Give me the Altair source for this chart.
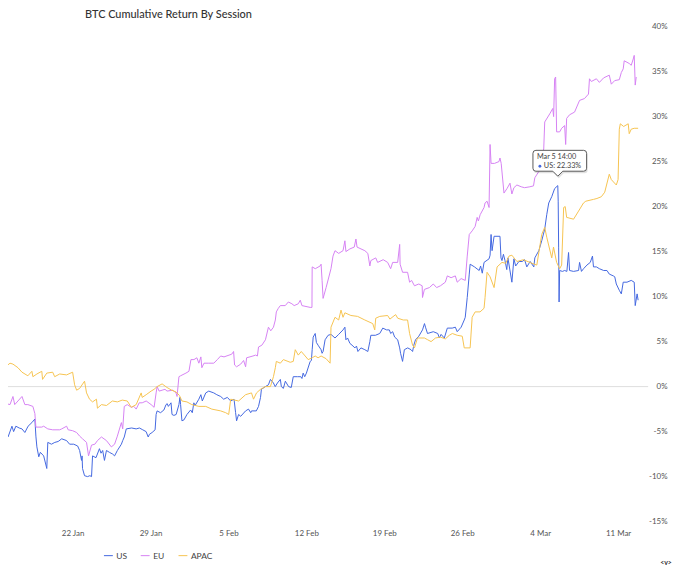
import altair as alt
import pandas as pd

# Data: (days since 15 Jan 2024 00:00, cumulative return %)
US = [(0.48,-5.8),(0.75,-4.4),(0.93,-5.8),(1.2,-5.6),(1.55,-4.4),(1.7,-5.0),(1.9,-4.4),(2.2,-4.6),(2.45,-4.7),
      (2.71,-5.1),(3.0,-4.4),(3.34,-4.0),(3.61,-3.6),(3.70,-5.5),(3.79,-6.7),(3.96,-7.8),(4.1,-7.3),(4.4,-7.7),
      (4.68,-9.1),(4.77,-6.2),(5.1,-6.4),(5.4,-6.2),(5.7,-6.1),(6.02,-5.8),(6.46,-6.0),(6.73,-6.4),(7.1,-6.4),
      (7.45,-6.6),(7.63,-7.1),(7.8,-8.2),(7.85,-7.7),(7.89,-9.1),(8.07,-9.9),(8.34,-10.0),(8.55,-9.9),(8.7,-10.0),
      (8.79,-7.7),(9.1,-7.9),(9.41,-6.9),(9.55,-7.4),(9.7,-7.1),(9.86,-8.2),(10.04,-7.1),(10.3,-7.3),(10.6,-7.5),
      (10.77,-7.7),(11.02,-7.1),(11.38,-6.4),(11.5,-6.0),(11.64,-5.6),(11.82,-4.7),(12.3,-4.6),(12.71,-4.7),
      (13.0,-4.6),(13.3,-4.8),(13.6,-5.0),(13.79,-5.6),(13.9,-5.3),(14.14,-5.1),(14.41,-4.8),(14.5,-3.1),
      (14.59,-2.7),(14.9,-2.9),(15.2,-2.6),(15.39,-2.0),(15.5,-1.9),(15.6,-2.2),(15.84,-1.8),(15.93,-3.1),
      (16.1,-3.2),(16.3,-3.1),(16.55,-2.0),(16.64,-1.2),(16.7,-2.0),(16.82,-3.8),(17.0,-3.7),(17.27,-3.1),
      (17.6,-2.6),(17.75,-2.9),(17.89,-1.8),(18.0,-2.1),(18.34,-1.4),(18.52,-0.9),(18.65,-1.6),(18.96,-0.7),
      (19.23,-0.5),(19.68,-0.7),(19.95,-0.9),(20.3,-1.1),(20.57,-1.4),(20.9,-1.2),(21.2,-1.6),(21.5,-1.4),
      (21.64,-2.9),(21.73,-3.8),(21.91,-3.1),(22.1,-3.3),(22.54,-2.7),(22.8,-2.5),(23.0,-2.9),(23.07,-2.7),
      (23.5,-2.7),(23.7,-2.2),(23.88,-1.2),(23.96,-0.3),(24.32,0.0),(24.59,0.2),(24.77,0.8),(25.04,0.4),
      (25.2,0.0),(25.4,0.4),(25.66,0.8),(25.75,0.0),(25.93,-0.2),(26.11,0.6),(26.4,0.0),(26.64,-0.1),
      (26.82,1.1),(27.2,1.1),(27.5,1.1),(27.6,0.9),(27.71,1.5),(27.85,1.1),(28.0,1.5),(28.34,2.8),(28.45,2.9),
      (28.52,4.1),(28.61,5.5),(28.79,5.9),(28.9,4.9),(29.05,4.6),(29.32,4.1),(29.41,3.7),(29.5,3.9),
      (29.68,5.2),(29.95,5.7),(30.21,5.8),(30.57,5.4),(30.9,5.8),(31.29,6.3),(31.46,6.6),(31.55,5.2),
      (31.7,5.4),(31.91,4.8),(32.1,4.6),(32.36,4.3),(32.5,4.5),(32.63,3.9),(32.9,4.3),(33.25,4.1),(33.52,3.9),
      (33.7,5.0),(33.79,5.7),(34.2,5.7),(34.59,5.9),(34.86,6.5),(35.2,6.3),(35.45,6.3),(35.57,5.9),
      (35.75,6.1),(35.93,5.5),(36.2,5.2),(36.38,4.3),(36.46,3.7),(36.64,2.8),(36.8,4.1),(37.1,4.3),
      (37.4,4.1),(37.54,3.9),(37.65,4.6),(37.8,5.2),(38.1,5.6),(38.43,6.3),(38.61,7.0),(38.7,6.6),
      (38.88,5.9),(39.4,6.1),(39.8,5.9),(39.95,5.4),(40.1,5.8),(40.39,5.4),(40.66,6.5),(41.1,6.5),
      (41.38,6.6),(41.55,6.1),(41.9,6.6),(42.18,7.4),(42.27,7.7),(42.45,9.9),(42.63,12.5),(42.71,13.6),
      (43.1,13.3),(43.52,12.9),(43.65,13.4),(43.8,12.6),(43.96,13.8),(44.41,14.2),(44.5,14.6),(44.59,16.9),
      (44.68,15.1),(44.86,16.7),(45.39,16.7),(45.48,14.3),(45.57,14.0),(45.7,14.7),(45.84,14.0),(46.0,13.0),
      (46.1,14.3),(46.46,11.6),(46.64,14.2),(46.8,13.4),(47.09,13.9),(47.4,13.9),(47.6,14.1),(47.8,13.3),
      (48.1,13.9),(48.43,13.3),(48.52,14.3),(48.88,15.1),(49.14,16.2),(49.41,17.5),(49.59,19.1),(49.77,20.4),
      (50.04,21.1),(50.3,22.0),(50.5833,22.33),(50.62,20.6),(50.66,15.5),(50.7,9.4),(50.75,12.9),(51.0,12.8),
      (51.2,12.9),(51.4,12.8),(51.55,14.9),(51.64,12.9),(52.0,12.8),(52.45,12.9),(52.54,13.8),(52.71,12.8),
      (52.9,13.1),(53.2,13.5),(53.5,13.8),(53.7,14.5),(53.79,13.3),(54.05,13.3),(54.32,13.1),(54.7,12.9),
      (55.0,12.9),(55.21,12.5),(55.57,12.3),(55.7,12.2),(55.84,11.4),(56.11,10.7),(56.29,10.3),(56.46,11.6),
      (56.8,11.6),(57.18,11.8),(57.45,11.6),(57.54,9.0),(57.71,10.3),(57.8,9.6)]

EU = [(0.48,-2.5),(0.75,-1.8),(1.375,-2.0),(1.64,-1.1),(1.8,-2.0),(2.09,-1.6),(2.45,-1.1),(2.71,-2.0),
      (2.98,-2.0),(3.43,-2.2),(3.61,-3.0),(3.70,-4.5),(4.23,-4.5),(4.4,-4.4),(4.77,-4.7),(5.21,-4.8),
      (5.84,-4.8),(6.02,-4.7),(6.46,-4.4),(6.6,-4.8),(7.0,-4.9),(7.36,-5.1),(7.63,-5.5),(7.89,-5.8),
      (8.25,-6.2),(8.43,-7.7),(8.7,-6.5),(9.0,-6.4),(9.23,-6.0),(9.59,-5.6),(10.04,-6.0),(10.48,-6.7),
      (10.77,-6.4),(11.02,-5.5),(11.38,-4.0),(11.5,-4.7),(11.64,-2.2),(11.91,-2.0),(12.27,-2.3),(12.5,-2.2),
      (12.71,-2.5),(12.98,-1.8),(13.25,-1.8),(13.61,-1.6),(14.05,-2.0),(14.32,-2.3),(14.5,-0.7),(14.59,0.0),
      (14.77,-0.5),(15.04,-0.4),(15.3,-0.3),(15.48,-0.5),(16.0,-0.4),(16.29,-0.7),(16.38,-1.1),(16.55,1.1),
      (16.7,1.2),(17.18,1.5),(17.45,1.7),(17.63,3.0),(17.9,3.0),(18.16,3.2),(18.34,2.6),(18.52,3.3),
      (18.61,2.1),(18.8,2.6),(19.23,2.6),(19.68,2.6),(20.0,3.0),(20.3,3.4),(20.6,3.3),(21.29,3.6),
      (21.46,3.9),(21.55,2.4),(21.73,2.2),(22.1,2.5),(22.36,2.9),(22.54,2.2),(22.63,3.2),(23.2,3.4),
      (23.43,3.5),(23.6,3.4),(23.7,4.4),(24.0,4.6),(24.32,5.2),(24.59,6.6),(24.8,6.2),(25.04,6.6),
      (25.21,7.4),(25.3,8.3),(25.48,8.7),(25.66,9.0),(26.1,9.0),(26.38,9.4),(26.7,9.2),(26.9,9.0),
      (27.27,9.2),(27.45,9.6),(27.6,9.0),(28.34,8.8),(28.5,8.8),(28.52,13.3),(28.8,13.1),(29.23,13.4),
      (29.32,13.6),(29.41,11.8),(29.5,9.8),(29.77,11.0),(30.21,13.1),(30.39,14.5),(30.57,15.1),(30.9,14.8),
      (31.29,15.1),(31.46,16.2),(31.55,15.0),(31.91,15.3),(32.3,15.5),(32.45,16.4),(32.55,15.5),(33.25,15.1),
      (33.52,14.8),(33.7,13.4),(33.79,14.0),(34.23,14.3),(34.4,13.8),(34.9,14.1),(35.3,13.8),(35.57,13.1),
      (35.75,13.8),(36.2,13.8),(36.38,15.8),(36.42,13.6),(36.64,12.7),(37.09,12.7),(37.27,11.6),(37.45,11.8),
      (37.71,11.2),(38.1,11.4),(38.4,11.2),(38.43,9.9),(38.6,10.8),(39.05,11.0),(39.4,11.4),(39.7,11.0),
      (40.04,11.2),(40.48,11.6),(40.66,12.3),(41.0,12.1),(41.38,12.3),(41.55,11.6),(41.9,12.0),(42.27,11.8),
      (42.45,14.5),(42.63,16.9),(42.89,17.3),(43.16,17.8),(43.34,18.8),(43.45,18.4),(43.61,19.1),(43.96,19.9),
      (44.05,20.4),(44.23,20.6),(44.41,19.9),(44.5,26.9),(44.59,24.8),(44.9,24.8),(45.3,25.0),(45.39,25.4),
      (45.5,24.8),(45.75,21.5),(46.02,22.0),(46.29,22.6),(46.46,21.4),(46.64,22.1),(46.91,22.4),(47.3,22.2),
      (47.6,22.1),(48.07,22.2),(48.4,22.3),(48.52,23.2),(48.88,23.9),(49.14,25.4),(49.32,26.4),(49.41,29.4),
      (49.86,30.3),(50.13,30.9),(50.21,30.0),(50.3,34.2),(50.39,34.4),(50.48,28.3),(50.75,28.3),(50.93,28.7),
      (51.2,29.0),(51.29,26.9),(51.38,29.8),(51.64,30.2),(52.09,30.5),(52.54,31.8),(52.98,32.0),(53.34,32.5),
      (53.43,34.2),(53.6,33.9),(54.05,34.2),(54.32,33.8),(54.7,34.3),(55.21,34.6),(55.39,33.6),(55.7,34.0),
      (56.11,34.1),(56.29,34.9),(56.46,35.3),(56.55,36.2),(57.0,35.9),(57.18,35.7),(57.36,36.4),(57.45,36.8),
      (57.54,33.5),(57.63,34.4)]

APAC = [(0.48,1.7),(1.375,2.6),(1.64,2.5),(2.09,2.1),(2.45,1.6),(2.98,1.2),(3.34,1.7),(3.43,1.1),(3.79,1.4),
        (4.23,1.7),(4.3,0.8),(4.68,1.5),(5.21,1.6),(5.39,1.1),(5.84,1.4),(6.46,1.3),(7.0,1.6),(7.18,0.2),
        (7.36,-0.4),(7.63,-0.2),(8.07,0.6),(8.25,-0.7),(8.52,-1.4),(8.79,-1.7),(9.14,-1.4),(9.23,-2.4),
        (9.59,-2.0),(10.04,-2.1),(10.57,-1.6),(11.02,-1.7),(11.46,-1.5),(11.91,-1.6),(12.27,-2.3),(12.71,-2.0),
        (13.16,-0.7),(13.25,-1.2),(13.61,-0.9),(14.05,-0.5),(14.32,-0.3),(14.59,0.0),(15.04,0.3),(15.48,-0.1),
        (15.9,-0.4),(16.3,-0.6),(16.6,-1.0),(16.82,-1.6),(17.27,-1.7),(17.71,-2.0),(18.34,-2.2),(18.96,-2.2),
        (19.5,-2.5),(20.3,-2.7),(20.75,-2.9),(21.02,-3.1),(21.2,-1.4),(21.91,-1.6),(22.54,-0.9),(23.07,-0.7),
        (23.25,-1.4),(23.52,-0.7),(23.88,-0.3),(24.32,0.0),(24.77,0.0),(25.04,1.1),(25.21,2.1),(25.3,2.8),
        (25.66,2.6),(25.93,3.0),(26.55,2.7),(26.82,2.8),(27.0,4.1),(27.27,3.5),(27.54,3.9),(27.89,3.4),
        (28.16,3.0),(28.52,3.2),(28.79,3.4),(29.05,3.2),(29.32,3.4),(29.77,3.1),(30.13,2.6),(30.21,6.6),
        (30.57,7.7),(30.9,7.4),(31.11,8.5),(31.29,7.7),(31.46,8.2),(32.0,7.9),(32.6,7.8),(33.25,7.4),
        (33.96,7.0),(34.14,6.3),(34.23,7.6),(34.59,7.8),(35.3,7.9),(35.5,7.5),(36.02,8.0),(36.2,7.6),
        (36.7,7.4),(37.09,7.4),(37.27,5.9),(37.54,4.6),(37.71,4.3),(37.98,5.4),(38.6,5.4),(38.9,5.2),
        (39.2,5.0),(39.6,5.4),(40.04,5.5),(40.48,5.3),(40.84,5.7),(41.11,5.9),(41.55,5.7),(42.0,5.6),
        (42.18,4.3),(42.71,4.3),(42.89,7.7),(43.16,8.3),(43.6,8.3),(43.96,8.7),(44.05,9.9),(44.23,12.7),
        (44.5,12.2),(44.86,11.0),(45.13,13.3),(45.57,13.8),(45.9,13.7),(46.2,14.5),(46.46,14.6),(46.91,13.9),
        (47.5,14.1),(48.25,13.7),(48.7,13.5),(49.14,16.9),(49.41,17.7),(49.59,16.6),(50.04,14.3),(50.2,15.5),
        (50.48,13.8),(50.75,13.1),(50.93,13.5),(51.11,19.9),(51.25,20.0),(51.38,18.8),(52.0,18.6),(52.45,19.5),
        (52.89,20.4),(53.1,20.6),(53.79,20.8),(54.1,20.9),(54.5,21.1),(54.8,21.6),(55.21,23.6),(55.39,23.0),
        (55.84,22.4),(56.0,23.0),(56.11,28.6),(56.2,29.2),(56.5,28.9),(56.91,29.2),(57.0,28.1),(57.18,28.6),
        (57.45,28.7),(57.8,28.7)]

SERIES = ["US", "EU", "APAC"]
COLORS = ["#4468e0", "#d682f3", "#f6c451"]
Y_TICKS = [-15, -10, -5, 0, 5, 10, 15, 20, 25, 30, 35, 40]
TITLE = "BTC Cumulative Return By Session"
TOOLTIP_TIME = "Mar 5 14:00"
TOOLTIP_SERIES = "US"
TOOLTIP_VALUE = 22.33

base = pd.Timestamp("2024-01-15")
rows = []
for name, pts in zip(SERIES, [US, EU, APAC]):
    for d, v in pts:
        rows.append({"session": name,
                     "date": (base + pd.to_timedelta(d, unit="D")).round("min"),
                     "ret": v})
df = pd.DataFrame(rows)

tip = pd.DataFrame([{"date": pd.Timestamp("2024-03-05 14:00"), "ret": TOOLTIP_VALUE,
                     "t1": TOOLTIP_TIME, "t2": f"{TOOLTIP_SERIES}: {TOOLTIP_VALUE:.2f}%"}])
zero = pd.DataFrame({"ret": [0]})

FONT = "Lato"
x_scale = alt.Scale(domain=[alt.DateTime(year=2024, month=1, date=16, hours=4, minutes=41),
                            alt.DateTime(year=2024, month=3, date=13, hours=16, minutes=48)])
y_scale = alt.Scale(domain=[-15, 40], nice=False, zero=False)

x_axis = alt.Axis(
    values=[alt.DateTime(year=2024, month=m, date=d) for m, d in
            [(1, 22), (1, 29), (2, 5), (2, 12), (2, 19), (2, 26), (3, 4), (3, 11)]],
    format="%-d %b", title=None, domain=False, ticks=False, grid=False,
    labelFont=FONT, labelFontSize=8, labelColor="#555", labelPadding=8, labelOverlap=False)
y_axis = alt.Axis(
    orient="right", values=Y_TICKS, labelExpr="datum.value + '%'", title=None,
    domain=False, ticks=False, grid=False, labelFont=FONT, labelFontSize=8,
    labelColor="#555", labelAlign="right", labelPadding=19)

zero_rule = alt.Chart(zero).mark_rule(color="#dedede", strokeWidth=1).encode(
    y=alt.Y("ret:Q", scale=y_scale, axis=y_axis))

lines = alt.Chart(df).mark_line(strokeWidth=1, clip=True, interpolate="linear").encode(
    x=alt.X("date:T", scale=x_scale, axis=x_axis),
    y=alt.Y("ret:Q", scale=y_scale, axis=y_axis),
    color=alt.Color("session:N", scale=alt.Scale(domain=SERIES, range=COLORS),
                    legend=alt.Legend(title=None, orient="none", legendX=96, legendY=527,
                                      direction="horizontal", symbolType="stroke",
                                      symbolSize=80, symbolStrokeWidth=1,
                                      labelFont=FONT, labelFontSize=8.5, labelColor="#444",
                                      columnPadding=11, labelOffset=3)),
    order=alt.Order("date:T"),
)

CALLOUT = ("M -0.88 -1.42 L 1.04 -1.42 Q 1.16 -1.42 1.16 -1.30 L 1.16 -0.70 "
           "Q 1.16 -0.58 1.04 -0.58 L 0.2 -0.58 L 0 -0.38 L -0.2 -0.58 L -0.88 -0.58 "
           "Q -1 -0.58 -1 -0.70 L -1 -1.30 Q -1 -1.42 -0.88 -1.42 Z")

tb = alt.Chart(tip).encode(x=alt.X("date:T", scale=x_scale), y=alt.Y("ret:Q", scale=y_scale))
shadow = tb.mark_point(shape=CALLOUT, size=2500, filled=True, fill="#000", opacity=0.12,
                       strokeWidth=0, xOffset=1, yOffset=2)
box = tb.mark_point(shape=CALLOUT, size=2500, filled=True, fill="white", opacity=1,
                    stroke="#5a5a5a", strokeWidth=1)
t1 = tb.mark_text(align="left", baseline="middle", dx=-21, dy=-28.5, font=FONT,
                  fontSize=7.3, color="#444").encode(text="t1:N")
dot = tb.mark_point(shape="circle", size=8, filled=True, fill="#4468e0", opacity=1,
                    xOffset=-18, yOffset=-19.5)
t2 = tb.mark_text(align="left", baseline="middle", dx=-14, dy=-19.5, font=FONT,
                  fontSize=7.3, color="#444").encode(text="t2:N")

nav = alt.Chart(zero).mark_text(text="<v>", font=FONT, fontSize=7, fontWeight="bold",
                                color="#333", align="center", baseline="middle").encode(
    x=alt.value(662), y=alt.value(540))

chart = alt.layer(zero_rule, lines, shadow, box, t1, dot, t2, nav).properties(
    width=644, height=498,
    title=alt.Title(TITLE, anchor="start", dx=78, fontSize=11, font=FONT, fontWeight=500,
                    color="#333", offset=3),
    autosize=alt.AutoSizeParams(type="none"),
    padding={"left": 0, "top": 17, "right": 24, "bottom": 48},
    background="white",
).configure_view(stroke=None)

chart.save("out.html", embed_options={"renderer": "svg", "actions": False})
